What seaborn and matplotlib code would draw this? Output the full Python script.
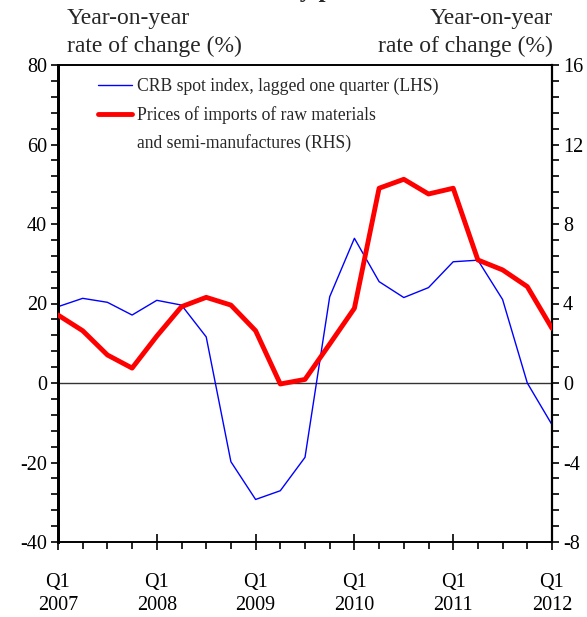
import matplotlib
matplotlib.use("Agg")
import matplotlib.pyplot as plt
from matplotlib.lines import Line2D
from matplotlib.ticker import MultipleLocator, FixedLocator
import numpy as np
import pandas as pd
import seaborn as sns

# Quarterly observations, Q1 2007 .. Q1 2012
quarters = [f"Q{q} {y}" for y in range(2007, 2013) for q in range(1, 5)][:21]
crb_spot = [19.2, 21.3, 20.3, 17.1, 20.8, 19.6, 11.6, -19.8, -29.3, -27.1, -18.7,
            21.7, 36.4, 25.5, 21.5, 24.0, 30.5, 30.9, 21.0, 0.0, -10.5]
import_prices = [3.42, 2.63, 1.41, 0.75, 2.36, 3.84, 4.31, 3.92, 2.63, -0.05, 0.18,
                 1.96, 3.76, 9.80, 10.25, 9.51, 9.80, 6.19, 5.69, 4.85, 2.75]
year_labels = ["Q1\n2007", "Q1\n2008", "Q1\n2009", "Q1\n2010", "Q1\n2011", "Q1\n2012"]

df = pd.DataFrame({"t": np.arange(len(quarters)), "quarter": quarters,
                   "crb": crb_spot, "imports": import_prices})

sns.set_style("ticks")
plt.rcParams["font.family"] = ["Liberation Serif", "DejaVu Serif"]
plt.rcParams["axes.unicode_minus"] = False
plt.rcParams["xtick.color"] = "black"
plt.rcParams["ytick.color"] = "black"

W, H = 587, 617
fig = plt.figure(figsize=(W / 100, H / 100), dpi=100)
ax = fig.add_axes([58 / W, 1 - 542 / H, (552 - 58) / W, (542 - 65) / H])
ax2 = ax.twinx()

sns.lineplot(data=df, x="t", y="crb", ax=ax, color="#0000ff", lw=1.0, zorder=3)
sns.lineplot(data=df, x="t", y="imports", ax=ax2, color="#ff0000", lw=3.5, zorder=4)
ax.axhline(0, color="#333333", lw=1.0, zorder=2)

ax.set_xlim(0, 20)
ax.set_ylim(-40, 80)
ax2.set_ylim(-8, 16)

ax.xaxis.set_major_locator(FixedLocator(np.arange(0, 21, 4)))
ax.set_xticklabels(year_labels)
ax.xaxis.set_minor_locator(MultipleLocator(1))
ax.yaxis.set_major_locator(MultipleLocator(20))
ax.yaxis.set_minor_locator(MultipleLocator(4))
ax2.yaxis.set_major_locator(MultipleLocator(4))
ax2.yaxis.set_minor_locator(MultipleLocator(0.8))

tick_fs = 14.5
ax.tick_params(axis="x", which="major", direction="inout", length=12, width=1.2,
               pad=16, labelsize=tick_fs)
ax.tick_params(axis="x", which="minor", direction="out", length=5, width=1.2)
for tl in ax.get_xticklabels():
    tl.set_linespacing(1.35)
ax.tick_params(axis="y", which="both", direction="out", length=5, width=1.2,
               pad=3, labelsize=tick_fs)
ax2.tick_params(axis="y", which="both", direction="out", length=5, width=1.2,
                pad=3, labelsize=tick_fs)

for a in (ax, ax2):
    a.set_xlabel("")
    a.set_ylabel("")
    for s in a.spines.values():
        s.set_visible(True)
        s.set_color("black")
        s.set_linewidth(1.2)
ax.spines["left"].set_linewidth(2.0)
ax2.spines["left"].set_linewidth(2.0)
ax2.spines["right"].set_linewidth(1.6)

handles = [Line2D([], [], color="#0000ff", lw=1.0),
           Line2D([], [], color="#ff0000", lw=3.5),
           Line2D([], [], color="none", lw=0)]
labels = ["CRB spot index, lagged one quarter (LHS)",
          "Prices of imports of raw materials",
          "and semi-manufactures (RHS)"]
ax2.legend(handles, labels, loc="upper left", bbox_to_anchor=(0.07, 0.984),
           frameon=False, fontsize=12.7, handlelength=1.95, handletextpad=0.25,
           labelspacing=0.6, borderpad=0.3, borderaxespad=0)

fig.text(67 / W, 1 - 8 / H, "Year-on-year\nrate of change (%)", ha="left", va="top",
         fontsize=17, linespacing=1.4)
fig.text(553 / W, 1 - 8 / H, "Year-on-year\nrate of change (%)", ha="right", va="top",
         fontsize=17, linespacing=1.4, multialignment="right")
fig.text(186 / W, 1 + 3.5 / H, "Commodity prices", ha="left", va="baseline",
         fontsize=18, fontweight="bold")

fig.savefig("out.png", dpi=100)
